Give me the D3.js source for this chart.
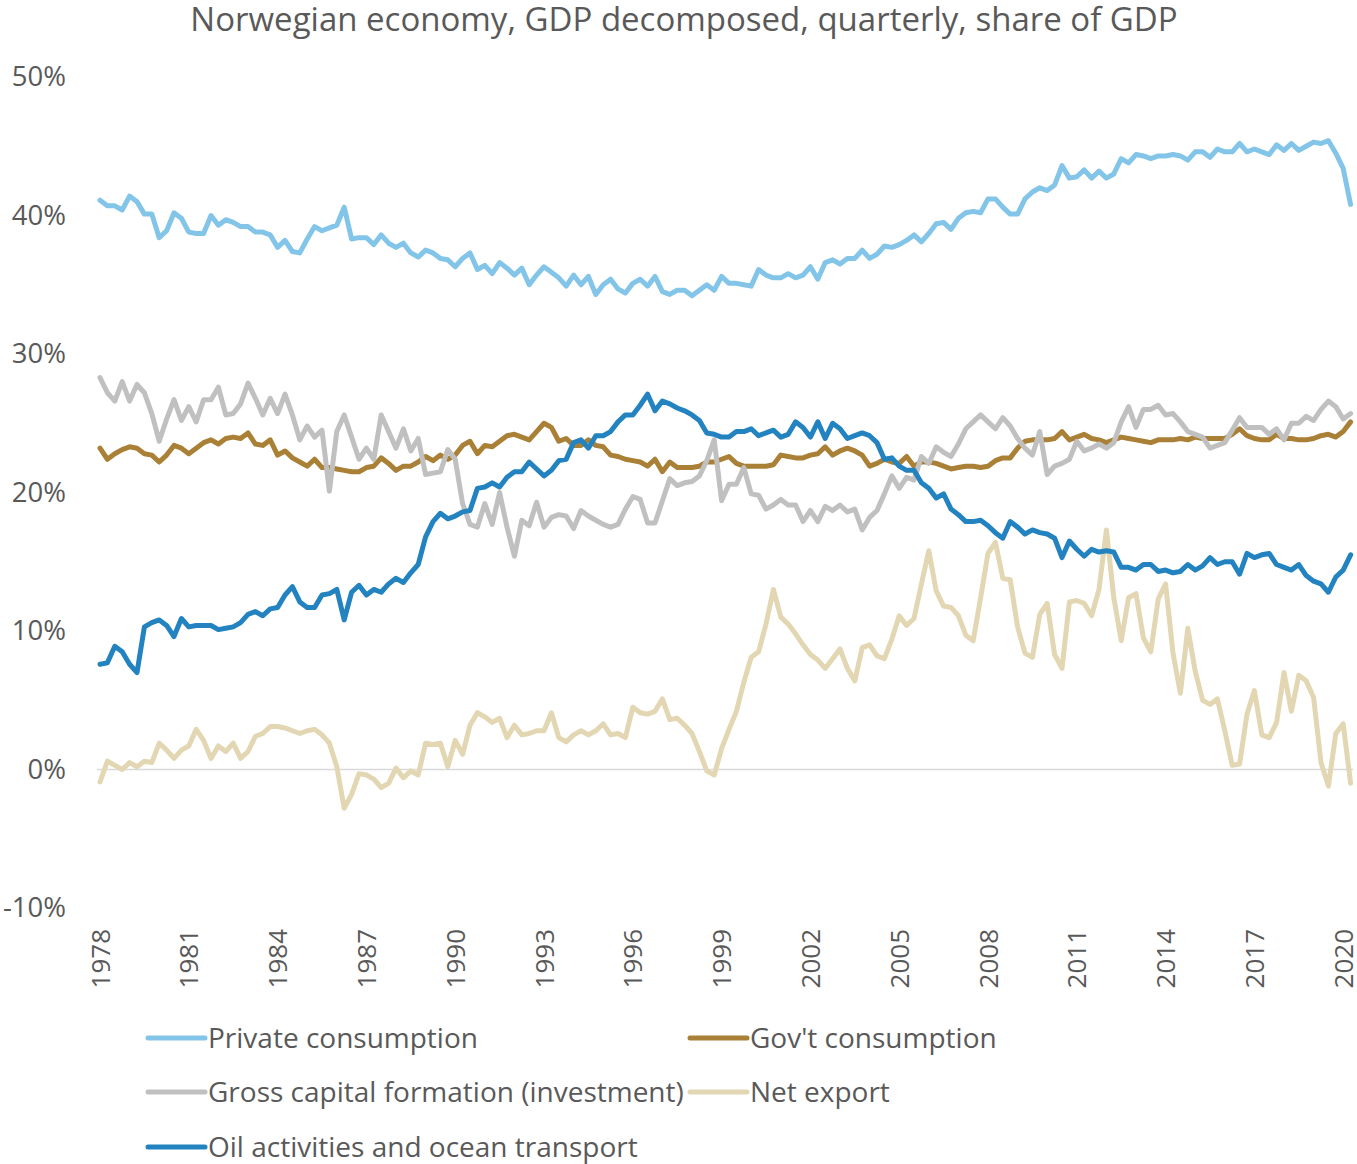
<!DOCTYPE html>
<html>
<head>
<meta charset="utf-8">
<script src="https://cdn.jsdelivr.net/npm/d3@7"></script>
<style>
  html, body { margin: 0; padding: 0; background: #fff; }
  svg { display: block; font-family: "Open Sans", "Noto Sans", sans-serif; }
</style>
</head>
<body>
<svg id="chart" width="1357" height="1164"></svg>
<script>
// Quarterly shares of GDP (%), 1978Q1 – 2020Q2
const startYear = 1978;
const tickYears = [1978, 1981, 1984, 1987, 1990, 1993, 1996, 1999, 2002, 2005, 2008, 2011, 2014, 2017, 2020];
const yTicks = [-10, 0, 10, 20, 30, 40, 50];

const privateConsumption = [
  41.1, 40.7, 40.7, 40.4, 41.4, 41.0, 40.1, 40.1, 38.4, 38.9, 40.2, 39.8,
  38.8, 38.7, 38.7, 40.0, 39.3, 39.7, 39.5, 39.2, 39.2, 38.8, 38.8, 38.6,
  37.7, 38.2, 37.4, 37.3, 38.3, 39.2, 38.9, 39.1, 39.3, 40.6, 38.3, 38.4,
  38.4, 37.9, 38.6, 38.0, 37.7, 38.0, 37.3, 37.0, 37.5, 37.3, 36.9, 36.8,
  36.3, 36.9, 37.3, 36.1, 36.4, 35.8, 36.6, 36.2, 35.7, 36.2, 35.0, 35.7,
  36.3, 35.9, 35.5, 34.9, 35.7, 35.0, 35.6, 34.3, 35.0, 35.4, 34.7, 34.4,
  35.1, 35.4, 34.9, 35.6, 34.5, 34.3, 34.6, 34.6, 34.2, 34.6, 35.0, 34.6,
  35.6, 35.1, 35.1, 35.0, 34.9, 36.1, 35.7, 35.5, 35.5, 35.8, 35.5, 35.7,
  36.3, 35.4, 36.6, 36.8, 36.5, 36.9, 36.9, 37.5, 36.9, 37.2, 37.8, 37.7,
  37.9, 38.2, 38.6, 38.1, 38.7, 39.4, 39.5, 39.0, 39.8, 40.2, 40.3, 40.2,
  41.2, 41.2, 40.6, 40.1, 40.1, 41.2, 41.7, 42.0, 41.8, 42.2, 43.6, 42.7,
  42.8, 43.3, 42.7, 43.2, 42.7, 43.0, 44.1, 43.8, 44.4, 44.3, 44.1, 44.3,
  44.3, 44.4, 44.3, 44.0, 44.6, 44.6, 44.2, 44.8, 44.6, 44.6, 45.2, 44.6,
  44.8, 44.6, 44.4, 45.1, 44.7, 45.2, 44.7, 45.0, 45.3, 45.2, 45.4, 44.5,
  43.4, 40.8
];

const govConsumption = [
  23.2, 22.4, 22.8, 23.1, 23.3, 23.2, 22.8, 22.7, 22.2, 22.7, 23.4, 23.2,
  22.8, 23.2, 23.6, 23.8, 23.5, 23.9, 24.0, 23.9, 24.3, 23.5, 23.4, 23.8,
  22.7, 23.0, 22.5, 22.2, 21.9, 22.4, 21.8, 21.8, 21.7, 21.6, 21.5, 21.5,
  21.8, 21.9, 22.5, 22.1, 21.6, 21.9, 21.9, 22.2, 22.6, 22.3, 22.7, 22.4,
  22.7, 23.4, 23.7, 22.8, 23.4, 23.3, 23.7, 24.1, 24.2, 24.0, 23.8, 24.4,
  25.0, 24.7, 23.7, 23.9, 23.4, 23.4, 23.8, 23.4, 23.3, 22.7, 22.6, 22.4,
  22.3, 22.2, 21.9, 22.4, 21.5, 22.2, 21.8, 21.8, 21.8, 21.9, 22.2, 22.2,
  22.4, 22.6, 22.1, 21.9, 21.9, 21.9, 21.9, 22.0, 22.7, 22.6, 22.5, 22.5,
  22.7, 22.8, 23.3, 22.7, 23.0, 23.2, 23.0, 22.7, 21.9, 22.1, 22.4, 22.2,
  22.1, 22.6, 21.9, 22.2, 22.2, 22.1, 21.9, 21.7, 21.8, 21.9, 21.9, 21.8,
  21.9, 22.3, 22.5, 22.5, 23.2, 23.7, 23.8, 23.8, 23.8, 23.9, 24.4, 23.8,
  24.0, 24.2, 23.9, 23.8, 23.6, 23.8, 24.0, 23.9, 23.8, 23.7, 23.6, 23.8,
  23.8, 23.8, 23.9, 23.8, 24.0, 23.9, 23.9, 23.9, 23.9, 24.2, 24.6, 24.1,
  23.9, 23.8, 23.8, 24.2, 23.9, 23.9, 23.8, 23.8, 23.9, 24.1, 24.2, 24.0,
  24.4, 25.1
];

const capitalFormation = [
  28.3, 27.2, 26.6, 28.0, 26.6, 27.8, 27.2, 25.7, 23.7, 25.3, 26.7, 25.2,
  26.2, 25.1, 26.7, 26.7, 27.6, 25.6, 25.7, 26.4, 27.9, 26.8, 25.6, 26.8,
  25.7, 27.1, 25.6, 23.8, 24.8, 24.0, 24.5, 20.1, 24.4, 25.6, 24.0, 22.4,
  23.2, 22.4, 25.6, 24.4, 23.2, 24.6, 23.0, 23.9, 21.3, 21.4, 21.5, 23.1,
  22.4, 19.2, 17.7, 17.5, 19.2, 17.7, 20.0, 17.5, 15.4, 18.0, 17.6, 19.3,
  17.5, 18.2, 18.4, 18.3, 17.4, 18.7, 18.3, 18.0, 17.7, 17.5, 17.7, 18.8,
  19.7, 19.5, 17.8, 17.8, 19.4, 21.0, 20.5, 20.7, 20.8, 21.2, 22.3, 23.8,
  19.4, 20.6, 20.6, 21.8, 19.9, 19.8, 18.8, 19.1, 19.5, 19.1, 19.1, 17.9,
  18.7, 17.9, 19.0, 18.7, 19.1, 18.6, 18.8, 17.3, 18.2, 18.7, 19.9, 21.2,
  20.3, 21.1, 20.9, 22.6, 22.1, 23.3, 22.9, 22.6, 23.5, 24.6, 25.1, 25.6,
  25.1, 24.6, 25.4, 24.8, 23.9, 23.2, 22.7, 24.4, 21.3, 21.9, 22.1, 22.4,
  23.7, 23.0, 23.2, 23.5, 23.2, 23.6, 25.1, 26.2, 24.7, 26.0, 26.0, 26.3,
  25.6, 25.7, 25.1, 24.4, 24.2, 24.0, 23.2, 23.4, 23.6, 24.5, 25.4, 24.7,
  24.7, 24.7, 24.2, 24.6, 23.8, 25.0, 25.0, 25.5, 25.2, 26.0, 26.6, 26.2,
  25.3, 25.7
];

const netExport = [
  -0.9, 0.6, 0.3, 0.0, 0.5, 0.2, 0.6, 0.5, 1.9, 1.4, 0.8, 1.4,
  1.7, 2.9, 2.1, 0.8, 1.7, 1.3, 1.9, 0.8, 1.3, 2.4, 2.6, 3.1,
  3.1, 3.0, 2.8, 2.6, 2.8, 2.9, 2.5, 1.9, 0.2, -2.8, -1.8, -0.3,
  -0.4, -0.7, -1.3, -1.0, 0.1, -0.6, -0.1, -0.4, 1.9, 1.8, 1.9, 0.2,
  2.1, 1.1, 3.2, 4.1, 3.8, 3.4, 3.7, 2.3, 3.2, 2.5, 2.6, 2.8,
  2.8, 4.1, 2.3, 2.0, 2.5, 2.8, 2.5, 2.8, 3.3, 2.5, 2.6, 2.3,
  4.5, 4.1, 4.0, 4.2, 5.1, 3.6, 3.7, 3.2, 2.6, 1.3, -0.1, -0.4,
  1.5, 2.9, 4.2, 6.3, 8.1, 8.5, 10.5, 13.0, 11.0, 10.5, 9.8, 9.0,
  8.3, 7.9, 7.3, 8.0, 8.7, 7.3, 6.4, 8.8, 9.0, 8.2, 8.0, 9.4,
  11.1, 10.4, 10.9, 13.4, 15.8, 12.9, 11.8, 11.7, 11.1, 9.7, 9.3, 12.4,
  15.6, 16.4, 13.8, 13.7, 10.3, 8.4, 8.1, 11.2, 12.0, 8.3, 7.3, 12.1,
  12.2, 12.0, 11.1, 13.0, 17.3, 12.4, 9.3, 12.4, 12.7, 9.5, 8.5, 12.3,
  13.4, 8.4, 5.5, 10.2, 7.1, 5.0, 4.7, 5.1, 2.8, 0.3, 0.4, 4.0,
  5.7, 2.5, 2.3, 3.4, 7.0, 4.2, 6.8, 6.4, 5.2, 0.5, -1.2, 2.6,
  3.3, -1.0
];

const oilActivities = [
  7.6, 7.7, 8.9, 8.5, 7.6, 7.0, 10.3, 10.6, 10.8, 10.4, 9.6, 10.9,
  10.3, 10.4, 10.4, 10.4, 10.1, 10.2, 10.3, 10.6, 11.2, 11.4, 11.1, 11.6,
  11.7, 12.6, 13.2, 12.1, 11.7, 11.7, 12.6, 12.7, 13.0, 10.8, 12.8, 13.3,
  12.6, 13.0, 12.8, 13.4, 13.8, 13.5, 14.2, 14.8, 16.8, 17.9, 18.5, 18.1,
  18.3, 18.6, 18.7, 20.3, 20.4, 20.7, 20.4, 21.1, 21.5, 21.5, 22.2, 21.7,
  21.2, 21.6, 22.3, 22.4, 23.6, 23.8, 23.2, 24.1, 24.1, 24.4, 25.1, 25.6,
  25.6, 26.3, 27.1, 25.9, 26.6, 26.4, 26.1, 25.9, 25.6, 25.2, 24.3, 24.2,
  24.0, 24.0, 24.4, 24.4, 24.6, 24.1, 24.3, 24.5, 24.0, 24.2, 25.1, 24.7,
  24.0, 25.1, 23.9, 25.0, 24.6, 23.9, 24.1, 24.3, 24.1, 23.6, 22.4, 22.5,
  21.9, 21.6, 21.6, 20.7, 20.3, 19.6, 19.9, 18.8, 18.4, 17.9, 17.9, 18.0,
  17.6, 17.1, 16.7, 17.9, 17.5, 17.0, 17.3, 17.1, 17.0, 16.7, 15.3, 16.5,
  15.9, 15.4, 15.9, 15.7, 15.8, 15.7, 14.6, 14.6, 14.4, 14.8, 14.8, 14.3,
  14.4, 14.2, 14.3, 14.8, 14.4, 14.7, 15.3, 14.8, 15.0, 15.0, 14.1, 15.6,
  15.3, 15.5, 15.6, 14.8, 14.6, 14.4, 14.8, 14.0, 13.6, 13.4, 12.8, 13.9,
  14.4, 15.5
];

// Quarter labels for the category axis
const quarters = privateConsumption.map((_, i) =>
  `${startYear + Math.floor(i / 4)}Q${(i % 4) + 1}`);

const series = [
  { name: "Private consumption", color: "#83c5e8", values: privateConsumption },
  { name: "Gov't consumption", color: "#a98036", values: govConsumption },
  { name: "Gross capital formation (investment)", color: "#c0c0c0", values: capitalFormation },
  { name: "Net export", color: "#e2d7b2", values: netExport },
  { name: "Oil activities and ocean transport", color: "#2283c0", values: oilActivities }
];

const svg = d3.select("#chart");
const textColor = "#595959";

const x = d3.scalePoint().domain(quarters).range([100, 1350.6]);
const y = d3.scaleLinear().domain([-10, 50]).range([908, 77]);

// Title
svg.append("text")
  .attr("x", 684).attr("y", 31)
  .attr("text-anchor", "middle")
  .attr("font-size", 33)
  .attr("fill", textColor)
  .text("Norwegian economy, GDP decomposed, quarterly, share of GDP");

// Value axis (labels only)
const yAxis = d3.axisLeft(y)
  .tickValues(yTicks)
  .tickSize(0)
  .tickPadding(0)
  .tickFormat(d => d + "%");
const gy = svg.append("g").attr("transform", "translate(66,0)").call(yAxis);
gy.select(".domain").remove();
gy.selectAll("text")
  .attr("font-size", 27.5)
  .attr("font-family", "'Open Sans', sans-serif")
  .attr("fill", textColor);

// Zero line
svg.append("line")
  .attr("x1", 97).attr("x2", 1353)
  .attr("y1", y(0)).attr("y2", y(0))
  .attr("stroke", "#d9d9d9")
  .attr("stroke-width", 1.5);

// Category axis labels, rotated, along the bottom
const tickQuarters = tickYears.map(yr => `${yr}Q1`);
const xAxis = d3.axisBottom(x)
  .tickValues(tickQuarters)
  .tickSize(0)
  .tickPadding(0)
  .tickFormat(d => d.slice(0, 4));
const gx = svg.append("g").attr("transform", `translate(0,${y(-10) + 21})`).call(xAxis);
gx.select(".domain").remove();
gx.selectAll(".tick text")
  .attr("font-size", 26)
  .attr("font-family", "'Open Sans', sans-serif")
  .attr("fill", textColor)
  .attr("text-anchor", "end")
  .attr("x", 0).attr("y", 0)
  .attr("dy", "0.35em")
  .attr("transform", "rotate(-90)");

// Series lines
const line = d3.line()
  .x((d, i) => x(quarters[i]))
  .y(d => y(d));

series.forEach(s => {
  svg.append("path")
    .datum(s.values)
    .attr("fill", "none")
    .attr("stroke", s.color)
    .attr("stroke-width", 5)
    .attr("stroke-linejoin", "round")
    .attr("stroke-linecap", "round")
    .attr("d", line);
});

// Legend
const legendPos = [
  { x: 148, y: 1038 }, { x: 690, y: 1038 },
  { x: 148, y: 1092 }, { x: 690, y: 1092 },
  { x: 148, y: 1147 }
];
series.forEach((s, i) => {
  const p = legendPos[i];
  const g = svg.append("g").attr("transform", `translate(${p.x},${p.y})`);
  g.append("line")
    .attr("x1", 0).attr("x2", 57)
    .attr("y1", 0).attr("y2", 0)
    .attr("stroke", s.color)
    .attr("stroke-width", 5)
    .attr("stroke-linecap", "round");
  g.append("text")
    .attr("x", 60).attr("y", 0)
    .attr("dy", "0.35em")
    .attr("font-size", 28)
    .attr("fill", textColor)
    .text(s.name);
});
</script>
</body>
</html>
